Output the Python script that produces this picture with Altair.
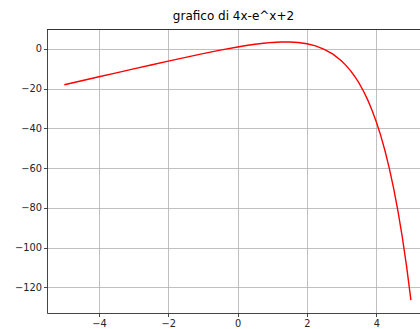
import altair as alt
import pandas as pd

x_vals = [-5, -4.5, -4, -3.5, -3, -2.5, -2, -1.5, -1, -0.5, 0, 0.25, 0.5, 0.75, 1, 1.25,
          1.375, 1.5, 1.75, 2, 2.25, 2.5, 2.75, 3, 3.125, 3.25, 3.375, 3.5, 3.625, 3.75,
          3.875, 4, 4.125, 4.25, 4.375, 4.5, 4.625, 4.75, 4.875, 5]
y_vals = [-18.007, -16.011, -14.018, -12.030, -10.050, -8.082, -6.135, -4.223, -2.368, -0.607,
          1.0, 1.716, 2.351, 2.883, 3.282, 3.510, 3.545, 3.518, 3.245, 2.611, 1.512, -0.182,
          -2.643, -6.086, -8.260, -10.790, -13.724, -17.115, -21.025, -25.521, -30.683,
          -36.598, -43.367, -51.105, -59.940, -70.017, -81.50, -94.584, -109.47, -126.413]
x_ticks = [-4, -2, 0, 2, 4]
y_ticks = [0, -20, -40, -60, -80, -100, -120]
title_text = "grafico di 4x-e^x+2"

df = pd.DataFrame({"x": x_vals, "y": y_vals})

W = 373
H = 284

axis_style = dict(title=None, grid=True, gridColor="#b0b0b0", gridWidth=0.8,
                  domainColor="#333333", domainWidth=0.9, tickColor="#333333",
                  tickSize=3.5, tickWidth=0.9, labelFont="DejaVu Sans", labelFontSize=9.8,
                  labelColor="#222222", labelPadding=2, labelFlush=False)

line = alt.Chart(df).mark_line(color="#ff0000", strokeWidth=1.4, clip=True).encode(
    x=alt.X("x:Q", scale=alt.Scale(domain=[-5.5, 5.262], nice=False, zero=False),
            axis=alt.Axis(values=x_ticks, **axis_style)),
    y=alt.Y("y:Q", scale=alt.Scale(domain=[-132.9, 10.04], nice=False, zero=False),
            axis=alt.Axis(values=y_ticks, **axis_style)),
)

top = alt.Chart(df).mark_rule(color="#333333", strokeWidth=0.9).encode(
    x=alt.value(0), x2=alt.value(W), y=alt.value(0.5)
)

chart = alt.layer(line, top).properties(
    width=W, height=H,
    title=alt.TitleParams(title_text, font="DejaVu Sans", fontSize=12, fontWeight="normal",
                          color="#000000", anchor="middle", offset=6),
    autosize=alt.AutoSizeParams(type="none"),
    padding={"left": 47, "top": 29, "right": 0, "bottom": 16},
).configure_view(stroke=None).configure(background="#ffffff")

chart.save("out.html", embed_options={"renderer": "svg", "actions": False})
